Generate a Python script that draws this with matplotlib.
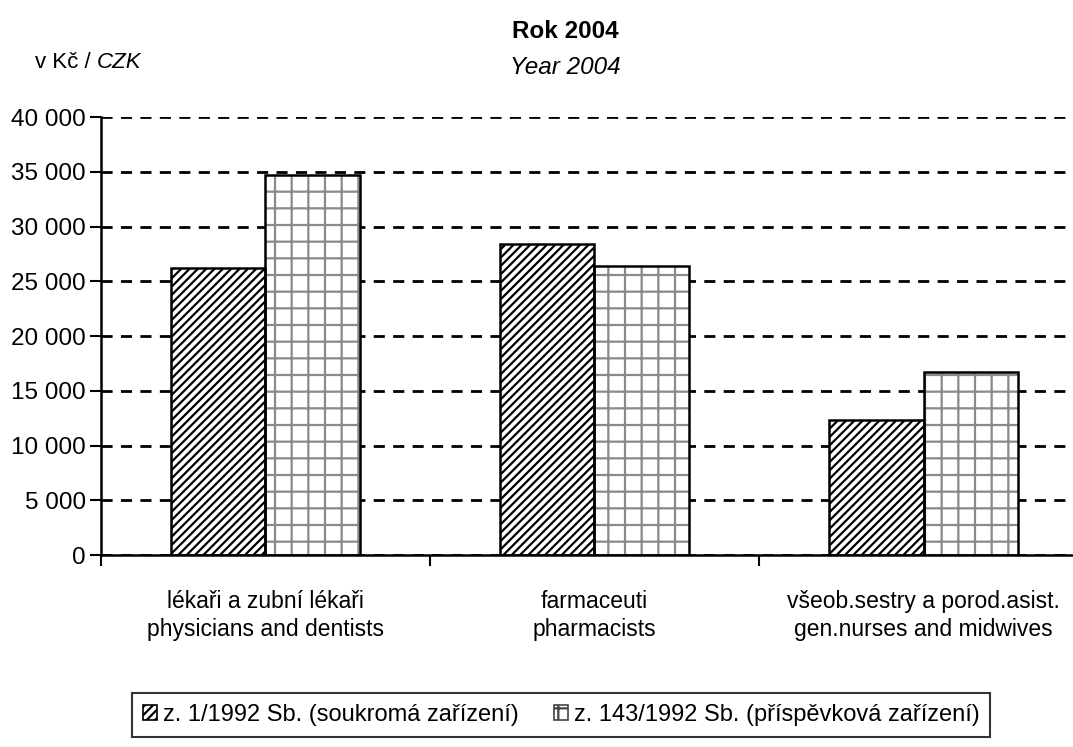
import numpy as np
import matplotlib
matplotlib.use("Agg")
import matplotlib.pyplot as plt
from matplotlib.patches import Patch

plt.rcParams['font.family'] = ['Liberation Sans', 'DejaVu Sans']
plt.rcParams['hatch.linewidth'] = 1.6

# data
categories = ["lékaři a zubní lékaři\nphysicians and dentists",
              "farmaceuti\npharmacists",
              "všeob.sestry a porod.asist.\ngen.nurses and midwives"]
private_vals = [26200, 28400, 12300]   # z. 1/1992 Sb.
public_vals = [34700, 26400, 16700]    # z. 143/1992 Sb.
series_labels = ["z. 1/1992 Sb. (soukromá zařízení)",
                 "z. 143/1992 Sb. (příspěvková zařízení)"]
yticks = [0, 5000, 10000, 15000, 20000, 25000, 30000, 35000, 40000]

fig = plt.figure(figsize=(10.73, 7.47), dpi=100)
ax = fig.add_axes([0.0941, 0.257, 0.9199, 0.5863])

x = np.arange(len(categories))
w = 0.286

ax.set_axisbelow(True)
ax.yaxis.grid(True, color='black', linestyle=(0, (4, 3)), linewidth=2)

# hatched private bars
ax.bar(x - w / 2, private_vals, w, color='white', edgecolor='black',
       hatch='////', linewidth=0, zorder=2)
ax.bar(x - w / 2, private_vals, w, fill=False, edgecolor='black',
       linewidth=1.8, zorder=3)
# dotted grid public bars
ax.bar(x + w / 2, public_vals, w, color='white', edgecolor='#8a8a8a',
       hatch='+', linewidth=0, zorder=2)
ax.bar(x + w / 2, public_vals, w, fill=False, edgecolor='black',
       linewidth=1.8, zorder=3)

ax.set_xlim(-0.5, len(categories) - 0.5)
ax.set_ylim(0, 40000)
ax.set_yticks(yticks)
ax.set_yticklabels([f"{v:,}".replace(",", " ") for v in yticks], fontsize=17.5)

# category ticks between groups, labels at centers
ax.set_xticks(np.arange(len(categories) + 1) - 0.5)
ax.set_xticklabels([])
ax.set_xticks(x, minor=True)
ax.set_xticklabels(categories, minor=True, fontsize=16.5, linespacing=1.3)
ax.tick_params(axis='x', which='minor', length=0, pad=25)
ax.tick_params(axis='x', which='major', length=8, width=1.5, direction='out')
ax.tick_params(axis='y', length=8, width=1.5, direction='out', pad=3)

for s in ['top', 'right']:
    ax.spines[s].set_visible(False)
ax.spines['left'].set_linewidth(1.8)
ax.spines['bottom'].set_linewidth(1.8)

fig.text(0.527, 0.958, "Rok 2004", ha='center', va='center',
         fontsize=17.5, fontweight='bold')
fig.text(0.527, 0.910, "Year 2004", ha='center', va='center',
         fontsize=17.5, style='italic')

unit1 = fig.text(0.033, 0.917, "v Kč / ", ha='left', va='center', fontsize=16)
fig.canvas.draw()
bb = unit1.get_window_extent().transformed(fig.transFigure.inverted())
fig.text(bb.x1, 0.917, "CZK", ha='left', va='center', fontsize=16, style='italic')

handles = [Patch(facecolor='white', edgecolor='black', hatch='////', linewidth=1.2),
           Patch(facecolor='white', edgecolor='#444444', hatch='+', linewidth=1.2)]
leg = fig.legend(handles, series_labels, loc='center', bbox_to_anchor=(0.523, 0.043),
                 ncol=2, fontsize=17, frameon=True, fancybox=False,
                 edgecolor='black', handlelength=0.6, handleheight=0.6,
                 handletextpad=0.25, columnspacing=1.5, borderpad=0.45,
                 borderaxespad=0)
leg.get_frame().set_linewidth(1.5)

fig.savefig("out.png", dpi=100)
